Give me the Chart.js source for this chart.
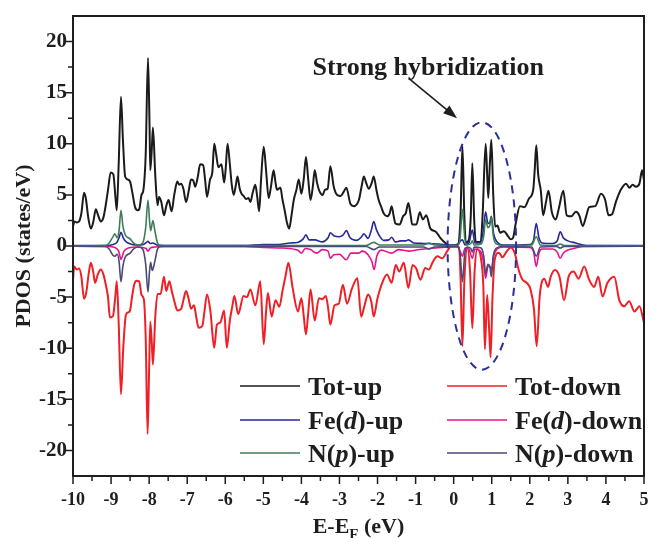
<!DOCTYPE html>
<html>
<head>
<meta charset="utf-8">
<script src="https://cdn.jsdelivr.net/npm/chart.js@4.4.1/dist/chart.umd.min.js"></script>
<style>
  html, body { margin: 0; padding: 0; background: #fff; }
  canvas { display: block; }
</style>
</head>
<body>
<canvas id="pdos" width="650" height="538"></canvas>
<script>
// [E - EF (eV), PDOS (states/eV)]
const totUp = [
  [-10.00, 1.9], [-9.96, 2.4], [-9.90, 2.3], [-9.84, 2.4], [-9.78, 3.2], [-9.71, 5.2], [-9.66, 4.6],
  [-9.60, 2.8], [-9.53, 1.7], [-9.47, 2.3], [-9.40, 3.6], [-9.34, 3.0], [-9.27, 2.4], [-9.20, 2.8],
  [-9.14, 4.0], [-9.08, 5.5], [-9.01, 7.2], [-8.94, 7.0], [-8.89, 5.0], [-8.85, 3.5], [-8.80, 8.0],
  [-8.74, 14.6], [-8.69, 10.5], [-8.63, 6.8], [-8.56, 6.5], [-8.50, 6.3], [-8.44, 5.2], [-8.37, 3.8],
  [-8.30, 3.5], [-8.26, 3.6], [-8.20, 5.0], [-8.15, 5.5], [-8.09, 9.0], [-8.03, 18.4], [-7.99, 12.0],
  [-7.97, 7.4], [-7.93, 9.5], [-7.90, 11.6], [-7.84, 7.0], [-7.78, 4.0], [-7.74, 4.8], [-7.68, 4.3],
  [-7.61, 3.0], [-7.55, 3.9], [-7.49, 4.5], [-7.41, 3.4], [-7.34, 5.0], [-7.26, 6.3], [-7.21, 6.0],
  [-7.16, 6.1], [-7.10, 5.6], [-7.03, 4.3], [-6.96, 5.4], [-6.90, 6.5], [-6.84, 6.4], [-6.79, 5.8],
  [-6.72, 6.8], [-6.66, 8.0], [-6.58, 7.9], [-6.53, 6.5], [-6.48, 4.8], [-6.40, 6.5], [-6.34, 7.2],
  [-6.29, 10.0], [-6.24, 9.0], [-6.18, 7.7], [-6.10, 8.0], [-6.03, 6.2], [-5.99, 7.5], [-5.94, 10.0],
  [-5.88, 8.0], [-5.83, 6.0], [-5.78, 5.0], [-5.72, 6.0], [-5.68, 6.8], [-5.62, 5.6], [-5.57, 5.1],
  [-5.52, 4.9], [-5.45, 4.6], [-5.39, 4.7], [-5.34, 4.3], [-5.28, 5.2], [-5.21, 6.0], [-5.16, 4.8],
  [-5.11, 3.4], [-5.06, 6.5], [-4.99, 9.7], [-4.93, 7.5], [-4.86, 4.7], [-4.80, 5.8], [-4.73, 7.4],
  [-4.68, 6.2], [-4.64, 5.5], [-4.55, 5.7], [-4.50, 4.6], [-4.44, 3.5], [-4.38, 2.3], [-4.32, 1.7],
  [-4.26, 3.0], [-4.20, 4.5], [-4.13, 5.5], [-4.07, 6.5], [-4.00, 5.1], [-3.94, 6.5], [-3.88, 8.7],
  [-3.82, 6.5], [-3.76, 4.5], [-3.70, 5.8], [-3.65, 7.4], [-3.59, 6.2], [-3.54, 5.5], [-3.44, 5.0],
  [-3.38, 5.5], [-3.31, 5.6], [-3.24, 7.8], [-3.15, 5.8], [-3.06, 5.0], [-2.97, 4.9], [-2.89, 5.3],
  [-2.82, 5.7], [-2.71, 4.1], [-2.62, 3.9], [-2.49, 4.5], [-2.42, 5.8], [-2.36, 6.8], [-2.30, 6.2],
  [-2.23, 5.6], [-2.15, 6.2], [-2.10, 6.8], [-2.03, 5.5], [-1.97, 4.5], [-1.90, 3.8], [-1.84, 3.2],
  [-1.75, 2.9], [-1.68, 3.2], [-1.63, 3.9], [-1.58, 3.0], [-1.53, 2.2], [-1.42, 2.1], [-1.33, 2.9],
  [-1.26, 3.2], [-1.19, 4.2], [-1.13, 3.0], [-1.09, 2.1], [-0.98, 2.1], [-0.89, 3.3], [-0.81, 2.6],
  [-0.72, 3.0], [-0.61, 1.7], [-0.47, 1.4], [-0.34, 0.75], [-0.21, 0.26], [-0.13, 0.05], [0.00, 0.05],
  [0.12, 0.2], [0.18, 3.0], [0.23, 9.8], [0.28, 3.0], [0.32, 0.3], [0.40, 0.6], [0.45, 3.0],
  [0.49, 8.1], [0.54, 2.5], [0.58, 0.4], [0.71, 0.4], [0.76, 3.0], [0.84, 10.0], [0.88, 7.0],
  [0.91, 4.7], [0.95, 8.0], [0.99, 10.4], [1.04, 5.0], [1.09, 1.9], [1.15, 2.0], [1.22, 1.3],
  [1.32, 1.45], [1.42, 1.0], [1.50, 0.65], [1.56, 0.8], [1.63, 2.2], [1.74, 3.9], [1.86, 3.8],
  [1.98, 4.65], [2.09, 5.5], [2.13, 7.5], [2.17, 9.85], [2.22, 7.0], [2.29, 5.4], [2.35, 3.0],
  [2.42, 4.2], [2.49, 5.4], [2.58, 3.3], [2.68, 2.6], [2.77, 3.8], [2.88, 5.4], [2.97, 3.0],
  [3.09, 2.9], [3.21, 3.35], [3.30, 3.0], [3.39, 1.95], [3.48, 2.9], [3.56, 3.8], [3.72, 3.9],
  [3.87, 5.1], [3.98, 4.5], [4.07, 3.0], [4.16, 3.1], [4.26, 4.3], [4.39, 5.5], [4.53, 6.1],
  [4.62, 5.7], [4.70, 6.0], [4.79, 5.8], [4.88, 6.1], [4.95, 7.4], [5.00, 6.4]
];

const totDown = [
  [-10.00, -3.4], [-9.97, -2.0], [-9.90, -2.3], [-9.84, -2.2], [-9.78, -3.0], [-9.71, -5.15], [-9.65, -4.5],
  [-9.58, -2.5], [-9.53, -1.65], [-9.47, -2.5], [-9.42, -3.6], [-9.35, -2.8], [-9.27, -2.3], [-9.20, -2.8],
  [-9.14, -3.75], [-9.08, -5.0], [-9.03, -7.0], [-8.95, -6.85], [-8.89, -5.0], [-8.85, -3.45], [-8.80, -7.5],
  [-8.74, -14.5], [-8.68, -10.0], [-8.61, -6.75], [-8.55, -6.5], [-8.50, -6.3], [-8.45, -5.0], [-8.39, -3.75],
  [-8.33, -3.4], [-8.26, -3.45], [-8.20, -4.8], [-8.14, -5.2], [-8.09, -9.0], [-8.04, -18.4], [-8.00, -12.0],
  [-7.97, -7.4], [-7.93, -9.5], [-7.90, -11.6], [-7.84, -7.0], [-7.78, -4.7], [-7.70, -4.7], [-7.61, -3.0],
  [-7.55, -4.4], [-7.47, -3.45], [-7.40, -4.5], [-7.33, -5.5], [-7.26, -6.3], [-7.16, -6.15], [-7.10, -5.3],
  [-7.03, -4.4], [-6.96, -5.2], [-6.90, -6.15], [-6.82, -5.8], [-6.76, -7.0], [-6.70, -8.0], [-6.60, -7.8],
  [-6.55, -6.5], [-6.48, -4.75], [-6.39, -6.4], [-6.29, -9.95], [-6.22, -7.7], [-6.13, -7.5], [-6.03, -6.3],
  [-5.96, -9.95], [-5.88, -7.3], [-5.82, -6.0], [-5.76, -4.9], [-5.66, -6.65], [-5.52, -4.9], [-5.43, -5.0],
  [-5.34, -4.25], [-5.21, -5.8], [-5.08, -3.45], [-4.99, -9.6], [-4.93, -6.5], [-4.88, -4.6], [-4.78, -6.9],
  [-4.68, -5.3], [-4.58, -5.95], [-4.49, -4.25], [-4.42, -3.0], [-4.34, -1.65], [-4.23, -4.1], [-4.09, -6.4],
  [-4.00, -5.1], [-3.94, -6.8], [-3.88, -8.65], [-3.82, -6.5], [-3.76, -4.25], [-3.65, -7.3], [-3.54, -5.1],
  [-3.45, -5.2], [-3.36, -4.9], [-3.30, -6.0], [-3.24, -7.7], [-3.13, -5.8], [-3.02, -5.65], [-2.91, -3.8],
  [-2.80, -5.65], [-2.68, -4.25], [-2.53, -3.15], [-2.43, -6.9], [-2.34, -5.8], [-2.25, -4.75], [-2.16, -5.5],
  [-2.10, -6.9], [-2.00, -5.1], [-1.86, -3.45], [-1.75, -2.8], [-1.63, -3.6], [-1.52, -1.85], [-1.43, -2.5],
  [-1.31, -1.65], [-1.19, -4.1], [-1.08, -1.85], [-0.99, -2.15], [-0.87, -3.3], [-0.75, -2.15], [-0.65, -2.3],
  [-0.56, -1.65], [-0.43, -1.0], [-0.30, -1.2], [-0.17, -0.5], [-0.08, -0.05], [0.00, 0.0], [0.14, -0.1],
  [0.18, -3.0], [0.23, -9.8], [0.28, -3.5], [0.36, -0.15], [0.43, -2.5], [0.49, -8.05], [0.55, -2.5],
  [0.62, -0.3], [0.72, -1.3], [0.78, -4.0], [0.82, -10.1], [0.88, -4.8], [0.93, -8.0], [0.97, -10.9],
  [1.02, -5.0], [1.08, -1.3], [1.19, -0.65], [1.28, -1.1], [1.40, -0.5], [1.50, -0.15], [1.60, -0.65],
  [1.72, -2.5], [1.81, -3.3], [1.92, -3.6], [2.02, -4.25], [2.11, -6.2], [2.18, -9.8], [2.26, -4.9],
  [2.38, -3.2], [2.48, -4.0], [2.55, -3.0], [2.66, -2.35], [2.78, -3.0], [2.90, -5.3], [3.02, -3.0],
  [3.15, -2.5], [3.28, -3.2], [3.43, -2.0], [3.56, -3.3], [3.69, -4.0], [3.80, -3.0], [3.91, -4.95],
  [4.04, -3.6], [4.22, -3.0], [4.35, -5.3], [4.48, -5.9], [4.61, -5.4], [4.75, -6.4], [4.88, -5.9],
  [5.00, -7.5]
];

const feDUp = [
  [-10.00, 0.05], [-9.10, 0.05], [-8.95, 0.15], [-8.85, 0.35], [-8.79, 0.8], [-8.74, 1.35], [-8.68, 0.8],
  [-8.60, 0.4], [-8.45, 0.15], [-8.30, 0.1], [-8.15, 0.15], [-8.07, 0.35], [-8.03, 0.45], [-7.97, 0.25],
  [-7.90, 0.3], [-7.80, 0.1], [-7.60, 0.05], [-5.50, 0.05], [-5.00, 0.15], [-4.60, 0.15], [-4.30, 0.3],
  [-4.10, 0.35], [-3.95, 0.7], [-3.88, 1.1], [-3.80, 0.6], [-3.65, 0.6], [-3.45, 0.4], [-3.30, 0.8],
  [-3.24, 1.3], [-3.15, 1.0], [-3.00, 0.9], [-2.90, 1.1], [-2.82, 1.5], [-2.72, 0.8], [-2.55, 0.55],
  [-2.42, 0.9], [-2.36, 1.2], [-2.25, 0.75], [-2.16, 1.6], [-2.10, 2.4], [-2.03, 1.6], [-1.95, 1.0],
  [-1.84, 0.55], [-1.70, 0.6], [-1.63, 0.85], [-1.53, 0.4], [-1.40, 0.5], [-1.26, 0.5], [-1.19, 0.6],
  [-1.05, 0.3], [-0.80, 0.25], [-0.40, 0.2], [-0.10, 0.1], [0.10, 0.1], [0.18, 0.5], [0.23, 0.6],
  [0.30, 0.1], [0.40, 0.3], [0.49, 1.55], [0.56, 0.3], [0.70, 0.3], [0.78, 1.5], [0.84, 3.35],
  [0.90, 2.2], [0.95, 2.3], [0.99, 2.9], [1.05, 1.2], [1.12, 0.5], [1.30, 0.1], [2.00, 0.15],
  [2.10, 0.6], [2.17, 2.2], [2.24, 0.8], [2.32, 0.3], [2.60, 0.25], [2.72, 0.5], [2.80, 1.4],
  [2.88, 0.8], [3.00, 0.5], [3.20, 0.3], [3.40, 0.1], [3.60, 0.05], [5.00, 0.05]
];

const feDDown = [
  [-10.00, -0.03], [-9.10, -0.05], [-8.90, -0.15], [-8.80, -0.5], [-8.74, -1.3], [-8.66, -0.5], [-8.55, -0.2],
  [-8.30, -0.1], [-8.08, -0.25], [-8.03, -0.5], [-7.97, -0.2], [-7.85, -0.1], [-7.60, -0.05], [-5.50, -0.05],
  [-5.00, -0.15], [-4.50, -0.2], [-4.10, -0.4], [-4.00, -0.7], [-3.90, -0.25], [-3.76, -0.35], [-3.60, -0.7],
  [-3.45, -0.35], [-3.30, -0.5], [-3.24, -1.2], [-3.15, -0.85], [-3.00, -0.8], [-2.82, -1.35], [-2.70, -0.7],
  [-2.50, -0.7], [-2.40, -0.5], [-2.25, -0.85], [-2.15, -1.5], [-2.09, -2.3], [-2.02, -1.0], [-1.90, -0.4],
  [-1.63, -0.7], [-1.45, -0.35], [-1.19, -0.5], [-0.90, -0.35], [-0.50, -0.2], [-0.10, -0.1], [0.10, -0.1],
  [0.18, -0.6], [0.23, -1.0], [0.30, -0.2], [0.40, -0.3], [0.49, -1.2], [0.56, -0.3], [0.70, -0.5],
  [0.78, -1.5], [0.84, -3.15], [0.90, -2.0], [0.95, -2.0], [0.99, -2.3], [1.05, -1.0], [1.12, -0.4],
  [1.30, -0.1], [2.00, -0.15], [2.10, -0.6], [2.17, -2.0], [2.24, -0.7], [2.32, -0.3], [2.60, -0.3],
  [2.72, -0.6], [2.80, -1.2], [2.88, -0.7], [3.00, -0.4], [3.20, -0.2], [3.40, -0.05], [5.00, -0.03]
];

const nPUp = [
  [-10.00, 0.03], [-9.15, 0.05], [-9.05, 0.3], [-8.95, 0.9], [-8.90, 1.2], [-8.84, 0.8], [-8.79, 1.5],
  [-8.74, 3.5], [-8.69, 2.0], [-8.63, 1.1], [-8.50, 0.7], [-8.40, 0.25], [-8.28, 0.1], [-8.17, 0.3],
  [-8.09, 1.8], [-8.03, 4.5], [-7.99, 2.5], [-7.96, 1.5], [-7.90, 2.5], [-7.85, 1.5], [-7.78, 0.3],
  [-7.70, 0.05], [-2.30, 0.05], [-2.10, 0.35], [-1.95, 0.1], [-0.80, 0.1], [-0.65, 0.3], [-0.50, 0.1],
  [0.10, 0.05], [0.17, 0.8], [0.23, 3.6], [0.29, 0.8], [0.35, 0.1], [0.45, 0.25], [0.49, 0.5],
  [0.54, 0.1], [0.72, 0.2], [0.79, 1.0], [0.84, 2.6], [0.90, 1.8], [0.95, 2.0], [0.99, 2.8],
  [1.04, 1.0], [1.12, 0.2], [1.30, 0.05], [2.05, 0.1], [2.17, 0.9], [2.28, 0.1], [2.70, 0.05],
  [2.80, 0.2], [2.90, 0.05], [5.00, 0.03]
];

const nPDown = [
  [-10.00, -0.03], [-9.15, -0.05], [-9.05, -0.3], [-8.95, -0.9], [-8.90, -1.0], [-8.84, -0.8], [-8.79, -1.5],
  [-8.74, -3.5], [-8.69, -2.0], [-8.63, -1.1], [-8.50, -0.7], [-8.40, -0.25], [-8.28, -0.1], [-8.17, -0.3],
  [-8.09, -1.8], [-8.03, -4.5], [-7.99, -2.5], [-7.96, -1.6], [-7.92, -2.4], [-7.85, -1.5], [-7.78, -0.3],
  [-7.70, -0.05], [-2.30, -0.05], [-2.10, -0.35], [-1.95, -0.1], [-0.80, -0.1], [-0.65, -0.3], [-0.50, -0.1],
  [0.10, -0.05], [0.17, -0.8], [0.23, -3.5], [0.29, -0.8], [0.35, -0.1], [0.45, -0.25], [0.49, -0.6],
  [0.54, -0.1], [0.72, -0.2], [0.79, -1.0], [0.84, -2.7], [0.90, -1.8], [0.95, -2.0], [0.99, -3.0],
  [1.04, -1.0], [1.12, -0.2], [1.30, -0.05], [2.05, -0.1], [2.17, -1.0], [2.28, -0.1], [2.70, -0.05],
  [2.80, -0.2], [2.90, -0.05], [5.00, -0.03]
];

const xTicks = [-10, -9, -8, -7, -6, -5, -4, -3, -2, -1, 0, 1, 2, 3, 4, 5];
const yTicks = [-20, -15, -10, -5, 0, 5, 10, 15, 20];

// annotation, in data units
const hybridLabel = 'Strong hybridization';
const hybridLabelAt = [-3.71, 16.7];
const arrowFrom = [-1.18, 16.4];
const arrowTo = [0.09, 12.5];
const ellipseC = [0.74, 0];
const ellipseR = [0.9, 12.1];

const SERIF = '"Liberation Serif", "Times New Roman", serif';
const INK = '#1e1e1e';

// legend entries: text pieces, 1 = italic
const series = [
  { name: [['Tot-up', 0]], data: totUp, color: '#1b1b1b', width: 2 },
  { name: [['Tot-down', 0]], data: totDown, color: '#ef1f26', width: 2 },
  { name: [['Fe(', 0], ['d', 1], [')-up', 0]], data: feDUp, color: '#27289a', width: 1.6 },
  { name: [['Fe(', 0], ['d', 1], [')-down', 0]], data: feDDown, color: '#e8138b', width: 1.6 },
  { name: [['N(', 0], ['p', 1], [')-up', 0]], data: nPUp, color: '#3f7d56', width: 1.6 },
  { name: [['N(', 0], ['p', 1], [')-down', 0]], data: nPDown, color: '#4a4977', width: 1.6 }
];

function drawPieces(ctx, pieces, x, y, size) {
  pieces.forEach(([t, it]) => {
    ctx.font = (it ? 'italic ' : '') + 'bold ' + size + 'px ' + SERIF;
    ctx.fillText(t, x, y);
    x += ctx.measureText(t).width;
  });
}

const decor = {
  id: 'decor',
  afterDraw(chart) {
    const { ctx, chartArea: a, scales: { x, y } } = chart;
    ctx.save();

    // ellipse round the hybridized states
    ctx.strokeStyle = '#2b2f9b';
    ctx.lineWidth = 2;
    ctx.setLineDash([8, 6]);
    ctx.beginPath();
    const cx = x.getPixelForValue(ellipseC[0]), cy = y.getPixelForValue(ellipseC[1]);
    const rx = x.getPixelForValue(ellipseC[0] + ellipseR[0]) - cx;
    const ry = cy - y.getPixelForValue(ellipseC[1] + ellipseR[1]);
    ctx.ellipse(cx, cy, rx, ry, 0, 0, Math.PI * 2);
    ctx.stroke();
    ctx.setLineDash([]);

    // arrow + label
    ctx.fillStyle = INK;
    ctx.strokeStyle = INK;
    ctx.lineWidth = 1.6;
    const x0 = x.getPixelForValue(arrowFrom[0]), y0 = y.getPixelForValue(arrowFrom[1]);
    const x1 = x.getPixelForValue(arrowTo[0]), y1 = y.getPixelForValue(arrowTo[1]);
    const ang = Math.atan2(y1 - y0, x1 - x0);
    ctx.beginPath();
    ctx.moveTo(x0, y0);
    ctx.lineTo(x1 - 10 * Math.cos(ang), y1 - 10 * Math.sin(ang));
    ctx.stroke();
    ctx.beginPath();
    ctx.moveTo(x1, y1);
    ctx.lineTo(x1 - 14 * Math.cos(ang) + 5 * Math.sin(ang), y1 - 14 * Math.sin(ang) - 5 * Math.cos(ang));
    ctx.lineTo(x1 - 14 * Math.cos(ang) - 5 * Math.sin(ang), y1 - 14 * Math.sin(ang) + 5 * Math.cos(ang));
    ctx.closePath();
    ctx.fill();
    ctx.textAlign = 'left';
    ctx.textBaseline = 'alphabetic';
    ctx.font = 'bold 26px ' + SERIF;
    ctx.fillText(hybridLabel, x.getPixelForValue(hybridLabelAt[0]), y.getPixelForValue(hybridLabelAt[1]));

    // frame
    ctx.lineWidth = 2;
    ctx.strokeRect(a.left, a.top, a.right - a.left, a.bottom - a.top);

    // tick marks, major + minor, pointing out
    ctx.lineWidth = 1.5;
    ctx.beginPath();
    xTicks.forEach((v, i) => {
      const px = x.getPixelForValue(v);
      ctx.moveTo(px, a.bottom); ctx.lineTo(px, a.bottom + 8);
      if (i < xTicks.length - 1) {
        const pm = x.getPixelForValue((v + xTicks[i + 1]) / 2);
        ctx.moveTo(pm, a.bottom); ctx.lineTo(pm, a.bottom + 5);
      }
    });
    yTicks.forEach((v, i) => {
      const py = y.getPixelForValue(v);
      ctx.moveTo(a.left, py); ctx.lineTo(a.left - 8, py);
      if (i < yTicks.length - 1) {
        const pm = y.getPixelForValue((v + yTicks[i + 1]) / 2);
        ctx.moveTo(a.left, pm); ctx.lineTo(a.left - 5, pm);
      }
    });
    ctx.stroke();

    // axis titles
    ctx.save();
    ctx.translate(24, (a.top + a.bottom) / 2);
    ctx.rotate(-Math.PI / 2);
    ctx.textAlign = 'center';
    ctx.textBaseline = 'middle';
    ctx.font = 'bold 22px ' + SERIF;
    ctx.fillText('PDOS (states/eV)', 0, 0);
    ctx.restore();

    ctx.textAlign = 'left';
    ctx.font = 'bold 22px ' + SERIF;
    const w1 = ctx.measureText('E-E').width, w3 = ctx.measureText(' (eV)').width;
    ctx.font = 'bold 15px ' + SERIF;
    const w2 = ctx.measureText('F').width;
    let tx = (a.left + a.right) / 2 - (w1 + w2 + w3) / 2;
    ctx.font = 'bold 22px ' + SERIF;
    ctx.fillText('E-E', tx, 533);
    ctx.font = 'bold 15px ' + SERIF;
    ctx.fillText('F', tx + w1, 539);
    ctx.font = 'bold 22px ' + SERIF;
    ctx.fillText(' (eV)', tx + w1 + w2, 533);

    // legend, two columns
    const rows = [386, 420, 453];
    const cols = [[240, 300, 308], [447, 507, 515]];
    series.forEach((s, i) => {
      const c = cols[i % 2], ry = rows[Math.floor(i / 2)];
      ctx.strokeStyle = s.color;
      ctx.lineWidth = 1.6;
      ctx.beginPath();
      ctx.moveTo(c[0], ry); ctx.lineTo(c[1], ry);
      ctx.stroke();
      ctx.fillStyle = INK;
      drawPieces(ctx, s.name, c[2], ry + 9, 26);
    });

    ctx.restore();
  }
};

new Chart(document.getElementById('pdos'), {
  type: 'line',
  data: {
    datasets: series.map((s, i) => ({
      label: s.name.map(p => p[0]).join(''),
      data: s.data.map(p => ({ x: p[0], y: p[1] })),
      borderColor: s.color,
      borderWidth: s.width,
      pointRadius: 0,
      fill: false,
      cubicInterpolationMode: 'monotone',
      order: series.length - i
    }))
  },
  options: {
    responsive: false,
    animation: false,
    layout: { padding: { top: 16, right: 6, left: 0, bottom: 0 } },
    plugins: { legend: { display: false }, tooltip: { enabled: false } },
    scales: {
      x: {
        type: 'linear', min: -10, max: 5,
        afterBuildTicks: s => { s.ticks = xTicks.map(v => ({ value: v })); },
        afterFit: s => { s.height = 62; s.paddingLeft = 0; s.paddingRight = 0; },
        grid: { display: false, drawTicks: false },
        border: { display: false },
        ticks: { padding: 14, color: INK, maxRotation: 0, font: { family: SERIF, weight: 'bold', size: 18 } }
      },
      y: {
        type: 'linear', min: -22.5, max: 22.5,
        afterBuildTicks: s => { s.ticks = yTicks.map(v => ({ value: v })); },
        afterFit: s => { s.width = 73; s.paddingTop = 0; s.paddingBottom = 0; },
        grid: { display: false, drawTicks: false },
        border: { display: false },
        ticks: { padding: 6, color: INK, font: { family: SERIF, weight: 'bold', size: 21 } }
      }
    }
  },
  plugins: [decor]
});
</script>
</body>
</html>
